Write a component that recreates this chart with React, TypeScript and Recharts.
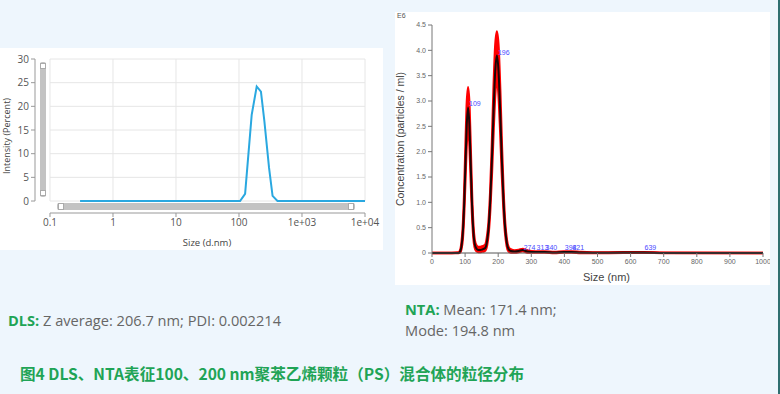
import React from "react";
import { LineChart, ComposedChart, Line, Area, Scatter, XAxis, YAxis, ReferenceLine } from "recharts";

// DLS intensity distribution (log size axis)
const DLS_SIZES = [0.3, 1, 10, 100, 104, 125, 159, 191, 223, 253, 300, 341, 408, 1000, 10000];
const DLS_INTENSITY = [0, 0, 0, 0, 0, 1.5, 18.2, 24.2, 23.1, 16.8, 7, 1.1, 0, 0, 0];
const DLS_X_TICKS = [0.1, 1, 10, 100, 1000, 10000];
const DLS_X_LABELS = ["0.1", "1", "10", "100", "1e+03", "1e+04"];
const DLS_Y_TICKS = [0, 5, 10, 15, 20, 25, 30];
const DLS_X_MIN = 0.0578;
const DLS_Y_MIN = -2.53;

// NTA concentration (E6 particles / ml)
const NTA_SIZES = [0, 40, 80, 85, 89, 93, 97, 101, 105, 109, 113, 117, 121, 125, 129, 134, 140, 146, 152, 156, 161, 166, 171, 176, 181, 186, 191, 196, 201, 206, 211, 216, 221, 226, 231, 238, 250, 262, 274, 288, 313, 340, 370, 398, 421, 450, 520, 639, 700, 1000];
const NTA_MEAN = [0, 0, 0, 0.03, 0.13, 0.39, 0.93, 1.74, 2.53, 2.87, 2.53, 1.74, 0.95, 0.42, 0.18, 0.09, 0.06, 0.06, 0.07, 0.08, 0.1, 0.22, 0.5, 1.04, 1.85, 2.8, 3.59, 3.9, 3.59, 2.8, 1.85, 1.04, 0.49, 0.2, 0.08, 0.04, 0.03, 0.04, 0.06, 0.03, 0.02, 0.02, 0.01, 0.02, 0.02, 0.01, 0.005, 0.01, 0, 0];
const NTA_UPPER = [0, 0, 0.01, 0.05, 0.18, 0.48, 1.1, 2.0, 2.9, 3.27, 2.9, 2.0, 1.1, 0.52, 0.25, 0.15, 0.12, 0.12, 0.13, 0.14, 0.16, 0.3, 0.6, 1.2, 2.1, 3.2, 4.05, 4.37, 4.05, 3.2, 2.1, 1.2, 0.58, 0.26, 0.12, 0.07, 0.05, 0.06, 0.08, 0.05, 0.03, 0.03, 0.02, 0.03, 0.03, 0.02, 0.01, 0.015, 0.005, 0];
const NTA_LOWER = [0, 0, 0, 0.01, 0.09, 0.3, 0.78, 1.5, 2.2, 2.5, 2.2, 1.5, 0.8, 0.33, 0.12, 0.04, 0.02, 0.02, 0.03, 0.03, 0.05, 0.15, 0.4, 0.88, 1.6, 2.45, 3.15, 3.45, 3.15, 2.45, 1.6, 0.88, 0.4, 0.14, 0.04, 0.01, 0.01, 0.02, 0.04, 0.01, 0.01, 0.01, 0, 0.01, 0.01, 0, 0, 0.005, 0, 0];
const NTA_PEAK_SIZES = [109, 196, 274, 313, 340, 398, 421, 639];
const NTA_PEAK_LEVELS = [2.95, 3.96, 0.1, 0.1, 0.1, 0.1, 0.1, 0.1];
const NTA_X_TICKS = [0, 100, 200, 300, 400, 500, 600, 700, 800, 900, 1000];
const NTA_Y_TICKS = [0, 0.5, 1, 1.5, 2, 2.5, 3, 3.5, 4, 4.5];

const GREEN = "#1fa456";
const GRID = "#e6e6e6";

const dlsData = DLS_SIZES.map((size, i) => ({ size, intensity: DLS_INTENSITY[i] }));
const ntaData = NTA_SIZES.map((size, i) => ({
  size,
  mean: NTA_MEAN[i],
  band: [NTA_LOWER[i], NTA_UPPER[i]],
}));
const ntaPeaks = NTA_PEAK_SIZES.map((size, i) => ({ size, level: NTA_PEAK_LEVELS[i] }));

function PeakLabel(props: any) {
  return (
    <text x={props.cx + 1} y={props.cy} dy={2.5} fontSize={7} fill="#4a4aff" fontFamily="Liberation Sans">
      {props.payload.size}
    </text>
  );
}

function DlsPanel() {
  return (
    <div style={{ position: "absolute", left: 0, top: 48, width: 383, height: 202, background: "#fff" }}>
      <LineChart width={383} height={202} data={dlsData} margin={{ top: 11, right: 18, bottom: 7, left: 8 }}>
        <XAxis
          dataKey="size"
          type="number"
          scale="log"
          domain={[DLS_X_MIN, 10000]}
          allowDataOverflow
          ticks={DLS_X_TICKS}
          tickFormatter={(v: number) => DLS_X_LABELS[DLS_X_TICKS.indexOf(v)] ?? String(v)}
          axisLine={false}
          tickLine={{ stroke: "#999" }}
          tickSize={4}
          height={30}
          tick={{ fontSize: 10, fill: "#555", fontFamily: "Open Sans" }}
          label={{ value: "Size (d.nm)", position: "insideBottom", offset: -3, dx: 7, fontSize: 9.5, fill: "#444", fontFamily: "Open Sans" }}
        />
        <YAxis
          type="number"
          domain={[DLS_Y_MIN, 30]}
          allowDataOverflow
          ticks={DLS_Y_TICKS}
          axisLine={false}
          tickLine={{ stroke: "#999" }}
          tickSize={4}
          width={27}
          tick={{ fontSize: 10, fill: "#555", fontFamily: "Open Sans" }}
          label={{ value: "Intensity (Percent)", angle: -90, position: "insideLeft", offset: -1, fontSize: 9, fill: "#444", fontFamily: "Open Sans", style: { textAnchor: "middle" } }}
        />
        {DLS_X_TICKS.map((t) => (
          <ReferenceLine key={"v" + t} segment={[{ x: t, y: 0 }, { x: t, y: 30 }]} stroke={GRID} ifOverflow="visible" />
        ))}
        {DLS_Y_TICKS.map((t) => (
          <ReferenceLine key={"h" + t} segment={[{ x: 0.1, y: t }, { x: 10000, y: t }]} stroke={GRID} ifOverflow="visible" />
        ))}
        <ReferenceLine segment={[{ x: DLS_X_MIN, y: 0 }, { x: DLS_X_MIN, y: 30 }]} stroke="#999" ifOverflow="visible" />
        <ReferenceLine segment={[{ x: 0.1, y: DLS_Y_MIN }, { x: 10000, y: DLS_Y_MIN }]} stroke="#999" ifOverflow="visible" />
        <Line dataKey="intensity" type="linear" stroke="#2aa8e0" strokeWidth={2} dot={false} isAnimationActive={false} />
      </LineChart>
      {/* scroll bars of the DLS software */}
      <div style={{ position: "absolute", left: 40, top: 14, width: 6, height: 135, background: "#c3c3c3", borderRadius: 2 }}>
        <div style={{ position: "absolute", left: 0, top: 1, width: 4, height: 4, border: "1px solid #aaa", background: "#fff" }} />
        <div style={{ position: "absolute", left: 0, bottom: 1, width: 4, height: 4, border: "1px solid #aaa", background: "#fff" }} />
      </div>
      <div style={{ position: "absolute", left: 57, top: 155, width: 298, height: 7, background: "#c3c3c3", borderRadius: 2 }}>
        <div style={{ position: "absolute", left: 1, top: 0, width: 4, height: 5, border: "1px solid #aaa", background: "#fff" }} />
        <div style={{ position: "absolute", right: 1, top: 0, width: 4, height: 5, border: "1px solid #aaa", background: "#fff" }} />
      </div>
    </div>
  );
}

function NtaPanel() {
  return (
    <div style={{ position: "absolute", left: 395, top: 12, width: 375, height: 273, background: "#fff" }}>
      <div style={{ position: "absolute", left: 2, top: 0, fontSize: 7, color: "#555", fontFamily: "Liberation Sans" }}>E6</div>
      <ComposedChart width={375} height={273} data={ntaData} margin={{ top: 13, right: 7, bottom: 7, left: 7 }}>
        <XAxis
          dataKey="size"
          type="number"
          domain={[0, 1000]}
          ticks={NTA_X_TICKS}
          axisLine={{ stroke: "#555" }}
          tickLine={{ stroke: "#777" }}
          tickSize={4}
          height={25}
          tick={{ fontSize: 7, fill: "#666", fontFamily: "Liberation Sans" }}
          label={{ value: "Size (nm)", position: "insideBottom", offset: -3, dx: 9, fontSize: 11, fill: "#444", fontFamily: "Liberation Sans" }}
        />
        <YAxis
          type="number"
          domain={[0, 4.5]}
          ticks={NTA_Y_TICKS}
          tickFormatter={(v: number) => (v === 0 ? "0" : v.toFixed(1))}
          axisLine={{ stroke: "#777" }}
          tickLine={{ stroke: "#777" }}
          tickSize={4}
          width={30}
          tick={{ fontSize: 7, fill: "#666", fontFamily: "Liberation Sans" }}
          label={{ value: "Concentration (particles / ml)", angle: -90, position: "insideLeft", offset: -2, fontSize: 10.5, fill: "#444", fontFamily: "Liberation Sans", style: { textAnchor: "middle" } }}
        />
        <Area dataKey="band" type="monotone" stroke="#ff0000" strokeWidth={2.5} fill="#ff0000" fillOpacity={1} isAnimationActive={false} />
        <Line dataKey="mean" type="monotone" stroke="#1c0606" strokeWidth={2} dot={false} isAnimationActive={false} />
        <Scatter data={ntaPeaks} dataKey="level" shape={<PeakLabel />} isAnimationActive={false} />
      </ComposedChart>
    </div>
  );
}

export default function App() {
  return (
    <div
      style={{
        position: "absolute",
        left: 0,
        top: 0,
        width: 780,
        height: 394,
        background: "#eef6fd",
        overflow: "hidden",
        fontFamily: "Open Sans",
      }}
    >
      <div style={{ position: "absolute", right: 0, top: 0, width: 2, height: 394, background: "#2f6f70" }} />
      <DlsPanel />
      <NtaPanel />
      <div style={{ position: "absolute", left: 8, top: 310, fontSize: 14.6, color: "#666", whiteSpace: "nowrap" }}>
        <b style={{ color: GREEN }}>DLS:</b> Z average: 206.7 nm; PDI: 0.002214
      </div>
      <div style={{ position: "absolute", left: 405, top: 299, fontSize: 14.6, color: "#666", lineHeight: "21px", whiteSpace: "nowrap" }}>
        <div>
          <b style={{ color: GREEN }}>NTA:</b> Mean: 171.4 nm;
        </div>
        <div>Mode: 194.8 nm</div>
      </div>
      <div
        style={{
          position: "absolute",
          left: 20,
          top: 362,
          fontSize: 15.6,
          fontWeight: "bold",
          color: GREEN,
          fontFamily: "'Noto Sans CJK SC'",
          whiteSpace: "nowrap",
        }}
      >
        图4 DLS、NTA表征100、200 nm聚苯乙烯颗粒（PS）混合体的粒径分布
      </div>
    </div>
  );
}
